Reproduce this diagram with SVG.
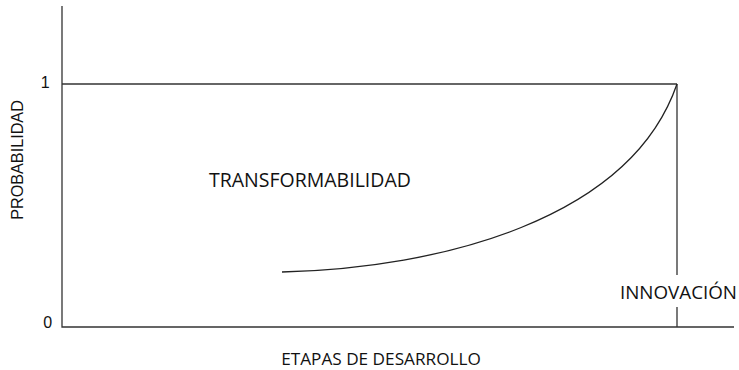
<svg xmlns="http://www.w3.org/2000/svg" width="739" height="370" viewBox="0 0 739 370">
<style>
.ax{stroke:#333;stroke-width:1.3;fill:none}
.cv{stroke:#222;stroke-width:1.3;fill:none}
.t{font-family:"Open Sans","Noto Sans",sans-serif;fill:#111}
.s{font-family:"Liberation Sans",Arial,sans-serif;fill:#111}
</style>
<rect width="739" height="370" fill="#fff"/>
<g id="connectors">
<path class="ax" d="M62,6 V327 H734"/>
<path class="ax" d="M62,84 H677"/>
<path class="ax" d="M677,84 V275 M677,307 V327"/>
<path class="cv" d="M282,272 C440,268 630,220 677,84"/>
</g>
<g id="axis-labels">
<text class="s" x="40.7" y="87.5" font-size="16">1</text>
<text class="s" x="43.3" y="327.5" font-size="16">0</text>
<text class="s" font-size="16.2" text-anchor="middle" transform="translate(22.8,160) rotate(-90)">PROBABILIDAD</text>
<text class="t" x="381" y="364.8" font-size="17.2" text-anchor="middle">ETAPAS DE DESARROLLO</text>
</g>
<g id="transformabilidad"><text class="t" x="209" y="187" font-size="19.5">TRANSFORMABILIDAD</text></g>
<g id="innovacion"><text class="t" x="678.5" y="298.5" font-size="18.8" text-anchor="middle">INNOVACIÓN</text></g>
</svg>
